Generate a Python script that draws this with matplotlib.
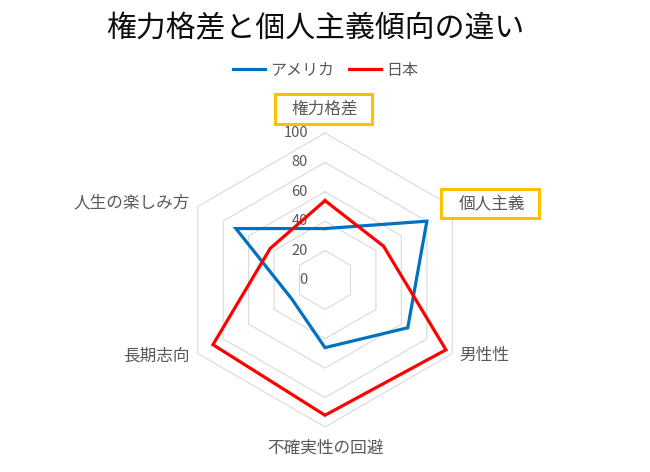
import matplotlib
matplotlib.use('Agg')
import matplotlib.pyplot as plt
import numpy as np
from matplotlib.transforms import offset_copy
from matplotlib.patches import Rectangle
from matplotlib.lines import Line2D

plt.rcParams['font.family'] = ['Noto Sans CJK JP', 'DejaVu Sans']

# ---- data ----
title = '権力格差と個人主義傾向の違い'
categories = ['権力格差', '個人主義', '男性性', '不確実性の回避', '長期志向', '人生の楽しみ方']
series_names = ['アメリカ', '日本']
usa = [35, 80, 65, 46, 26, 70]
japan = [54, 46, 95, 92, 88, 43]
r_ticks = [0, 20, 40, 60, 80, 100]
highlighted = ['権力格差', '個人主義']

# ---- layout / style ----
W, H = 650, 472
cx, cy, R = 325, 280, 147
colors = ['#0070C0', '#FF0000']
grey = '#595959'
# label offsets in pixels (dx, dy, ha)
label_offsets = [(0, 24, 'center'), (6, 3, 'left'), (7, -1.5, 'left'),
                 (0, -21, 'center'), (-8, -2.5, 'right'), (-8, 3.5, 'right')]

fig = plt.figure(figsize=(W / 100, H / 100), dpi=100)
ax = fig.add_axes([(cx - R) / W, (H - cy - R) / H, 2 * R / W, 2 * R / H],
                  projection='polar')
ax.set_theta_offset(np.pi / 2)
ax.set_theta_direction(-1)
ax.set_ylim(0, 100)
ax.grid(False)
ax.spines['polar'].set_visible(False)
ax.set_xticks([])
ax.set_yticks([])
ax.patch.set_alpha(0)

n = len(categories)
theta = np.linspace(0, 2 * np.pi, n, endpoint=False)
tc = np.append(theta, theta[0])

for v in r_ticks[1:]:
    ax.plot(tc, [v] * (n + 1), color='#D9D9D9', lw=0.8, zorder=1, clip_on=False)

for vals, col, name, z in [(usa, colors[0], series_names[0], 3),
                           (japan, colors[1], series_names[1], 4)]:
    ax.plot(tc, list(vals) + [vals[0]], color=col, lw=2.3, zorder=z,
            label=name, clip_on=False, solid_joinstyle='miter')

for v in r_ticks:
    ax.text(0, v, str(v), transform=offset_copy(ax.transData, fig, x=-17, y=0, units='dots'),
            ha='right', va='center', fontsize=10.5, color=grey, zorder=2)

label_texts = {}
for th, cat, (dx, dy, ha) in zip(theta, categories, label_offsets):
    t = ax.text(th, 100, cat, transform=offset_copy(ax.transData, fig, x=dx, y=dy, units='dots'),
                ha=ha, va='center', fontsize=12, color=grey, zorder=6, clip_on=False)
    label_texts[cat] = t

handles = [Line2D([], [], color=c, lw=2.3) for c in colors]
fig.legend(handles, series_names, loc='center', bbox_to_anchor=(325.5 / W, 1 - 70 / H),
           ncol=2, frameon=False, fontsize=11.5, handlelength=2.0, handletextpad=0.3,
           columnspacing=0.95, labelcolor=grey)

fig.text(315 / W, 1 - 29 / H, title, fontsize=21.5, ha='center', va='center', color='#0D0D0D')

fig.canvas.draw()
renderer = fig.canvas.get_renderer()
for cat in highlighted:
    bb = label_texts[cat].get_window_extent(renderer)
    x0 = bb.x0 - 17
    x1 = bb.x1 + 14
    yc = (bb.y0 + bb.y1) / 2
    h = 29
    rect = Rectangle((x0 / W, (yc - h / 2) / H), (x1 - x0) / W, h / H,
                     transform=fig.transFigure, facecolor='white', edgecolor='#FFC000',
                     lw=2.2, zorder=5, clip_on=False)
    ax.add_patch(rect)

fig.savefig('out.png', dpi=100)
